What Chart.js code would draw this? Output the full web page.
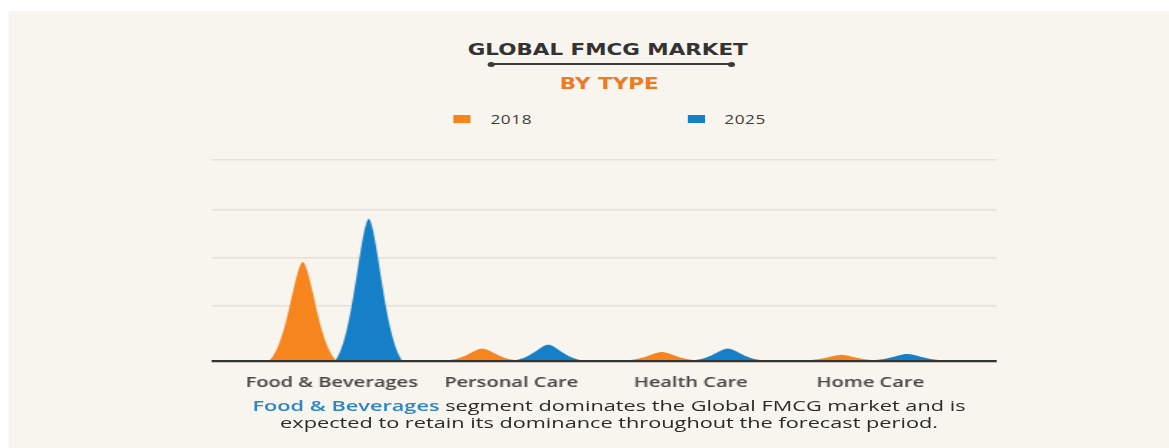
<!DOCTYPE html>
<html>
<head>
<meta charset="utf-8">
<script src="https://cdn.jsdelivr.net/npm/chart.js@4"></script>
<style>
  html, body { margin: 0; padding: 0; background: #ffffff; }
  body { width: 1169px; height: 448px; overflow: hidden; position: relative; }
  /* the reference is stretched sideways, so draw narrow and widen the whole page */
  #stage {
    position: absolute; left: 0; top: 0;
    width: 817.5px; height: 448px;
    transform: scaleX(1.43); transform-origin: 0 0;
  }
  #panel { position: absolute; left: 6.3px; top: 11px; right: 0; bottom: 0; background: #f8f4ee; }
  .center { position: absolute; text-align: center; white-space: nowrap; }
  #title { left: 225px; width: 400px; top: 40.5px; font: bold 15px "DejaVu Sans", sans-serif; color: #333333; }
  #subtitle { left: 226px; width: 400px; top: 75px; font: bold 15px "DejaVu Sans", sans-serif; color: #f07a22; }
  #rule { position: absolute; left: 343px; top: 63.3px; width: 168px; height: 2px; background: #3a3a3a; }
  #rule::before, #rule::after {
    content: ''; position: absolute; top: -1.5px; width: 5px; height: 5px; border-radius: 50%; background: #3a3a3a;
  }
  #rule::before { left: -2.5px; }
  #rule::after { right: -2.5px; }
  .legend-item { position: absolute; top: 111px; font: 12px "Open Sans", sans-serif; color: #3d3d3d; letter-spacing: 0.4px; }
  .legend-item i { position: absolute; top: 4px; width: 12px; height: 8px; }
  .legend-item span { position: absolute; left: 26px; top: 0; }
  #chart-box { position: absolute; left: 147.6px; top: 150px; width: 549px; height: 254px; }
  #caption {
    left: 125.9px; width: 600px; top: 397px; font: 15.2px/16.5px "Open Sans", sans-serif; color: #2a2a2a;
  }
  #caption b { font-weight: 600; color: #2d86c6; }
</style>
</head>
<body>
<div id="stage">
  <div id="panel"></div>
  <div id="title" class="center">GLOBAL FMCG MARKET</div>
  <div id="rule"></div>
  <div id="subtitle" class="center">BY TYPE</div>
  <div id="legend"></div>
  <div id="chart-box"><canvas id="fmcg-chart"></canvas></div>
  <div id="caption" class="center"><b>Food &amp; Beverages</b> segment dominates the Global FMCG market and is<br>expected to retain its dominance throughout the forecast period.</div>
</div>
<script>
const categories = ['Food & Beverages', 'Personal Care', 'Health Care', 'Home Care']
const seriesNames = ['2018', '2025']
const values2018 = [2.04, 0.26, 0.19, 0.13]
const values2025 = [2.93, 0.34, 0.26, 0.15]
const gridTicks = [0, 1.13, 2.12, 3.11, 4.13]

const seriesColors = ['#f7851e', '#1580c8']

// legend boxes, placed under the subtitle
const legendLeft = [317, 480.5]
const legend = document.getElementById('legend')
seriesNames.forEach((name, i) => {
  const item = document.createElement('div')
  item.className = 'legend-item'
  item.style.left = legendLeft[i] + 'px'
  item.innerHTML = `<i style="background:${seriesColors[i]}"></i><span>${name}</span>`
  legend.appendChild(item)
})

// each bar is drawn as a bell shaped peak sitting on the baseline
const bellPeaks = {
  id: 'bellPeaks',
  beforeDatasetsDraw(chart) {
    const ctx = chart.ctx
    const area = chart.chartArea
    ctx.save()
    ctx.beginPath()
    ctx.rect(area.left, area.top - 2, area.right - area.left, area.bottom - area.top + 1)
    ctx.clip()
    chart.data.datasets.forEach((ds, d) => {
      const meta = chart.getDatasetMeta(d)
      meta.data.forEach(el => {
        const { x, y, base, width } = el.getProps(['x', 'y', 'base', 'width'], true)
        const h = base - y
        const k = 1.75
        const floor = Math.exp(-Math.pow(k, 1.7))
        ctx.beginPath()
        ctx.moveTo(x - width / 2, base)
        for (let s = 0; s <= 60; s++) {
          const t = -1 + s / 30
          const f = (Math.exp(-Math.pow(Math.abs(t) * k, 1.7)) - floor) / (1 - floor)
          ctx.lineTo(x + t * width / 2, base - h * f)
        }
        ctx.closePath()
        ctx.fillStyle = ds.backgroundColor
        ctx.fill()
      })
    })
    ctx.restore()
    return false
  }
}

const ctx = document.getElementById('fmcg-chart')
new Chart(ctx, {
  type: 'bar',
  data: {
    datasets: [
      {
        label: seriesNames[0],
        data: values2018.map((v, i) => ({ x: i, y: v })),
        backgroundColor: seriesColors[0]
      },
      {
        label: seriesNames[1],
        data: values2025.map((v, i) => ({ x: i, y: v })),
        backgroundColor: seriesColors[1]
      }
    ]
  },
  plugins: [bellPeaks],
  options: {
    responsive: true,
    maintainAspectRatio: false,
    animation: false,
    categoryPercentage: 0.735,
    barPercentage: 1,
    layout: {
      padding: { top: 10, bottom: 0, left: 0, right: 0 }
    },
    plugins: {
      legend: { display: false },
      tooltip: { enabled: false }
    },
    scales: {
      x: {
        type: 'linear',
        offset: false,
        min: -0.691,
        max: 3.682,
        afterBuildTicks: scale => {
          scale.ticks = categories.map((c, i) => ({ value: i }))
        },
        ticks: {
          padding: 13,
          labelOffset: -2.8,
          autoSkip: false,
          maxRotation: 0,
          color: '#454545',
          font: { family: 'Open Sans', size: 14, weight: '600' },
          callback: value => categories[value]
        },
        grid: { display: false, drawTicks: false, offset: false },
        border: { display: false }
      },
      y: {
        min: 0,
        max: gridTicks[gridTicks.length - 1],
        afterBuildTicks: scale => {
          scale.ticks = gridTicks.map(v => ({ value: v }))
        },
        ticks: { display: false },
        grid: {
          drawTicks: false,
          color: c => c.tick.value === 0 ? '#333333' : '#e5e0da',
          lineWidth: c => c.tick.value === 0 ? 2.2 : 1.6
        },
        border: { display: false }
      }
    }
  }
})
</script>
</body>
</html>
